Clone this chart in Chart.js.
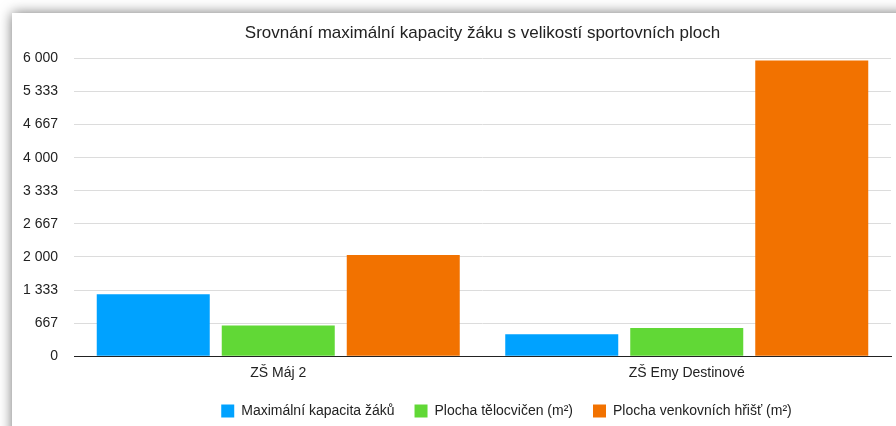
<!DOCTYPE html>
<html>
<head>
<meta charset="utf-8">
<script src="https://cdn.jsdelivr.net/npm/chart.js@4/dist/chart.umd.min.js"></script>
<style>
  html, body { margin: 0; padding: 0; background: #fff; overflow: hidden; }
  body { width: 896px; height: 426px; position: relative; }
  #panel {
    position: absolute; left: 12px; top: 13px; width: 960px; height: 500px;
    background: #fff; box-shadow: 0 0 12px rgba(0,0,0,0.55);
  }
  #wrap { position: absolute; left: 0; top: 0; width: 884px; height: 413px; }
</style>
</head>
<body>
<div id="panel"><div id="wrap"><canvas id="kapacitaChart"></canvas></div></div>
<script>
// Data
const skoly = ['ZŠ Máj 2', 'ZŠ Emy Destinové'];
const kapacitaZaku = [1250, 440];
const plochaTelocvicen = [620, 570];
const plochaHrist = [2040, 5960];
const tickLabels = ['0', '667', '1 333', '2 000', '2 667', '3 333', '4 000', '4 667', '5 333', '6 000'];

const pismo = "'Liberation Sans', Arial, Helvetica, sans-serif";

// posun legendy doprava a dolu jako v originalu
const posunLegendy = {
    id: 'posunLegendy',
    afterLayout(chart) {
        const lg = chart.legend;
        if (lg) {
            lg.left += 55; lg.right += 55;
            lg.top += 2; lg.bottom += 2;
        }
    }
};

const ctx = document.getElementById('kapacitaChart').getContext('2d');
new Chart(ctx, {
    type: 'bar',
    data: {
        labels: skoly,
        datasets: [
            { label: 'Maximální kapacita žáků', data: kapacitaZaku, backgroundColor: '#00A2FF' },
            { label: 'Plocha tělocvičen (m²)', data: plochaTelocvicen, backgroundColor: '#61D836' },
            { label: 'Plocha venkovních hřišť (m²)', data: plochaHrist, backgroundColor: '#F27200' }
        ]
    },
    options: {
        responsive: true,
        maintainAspectRatio: false,
        animation: false,
        categoryPercentage: 0.918,
        barPercentage: 0.904,
        layout: { padding: { left: 0, right: 5, top: 0, bottom: 0 } },
        scales: {
            x: {
                afterFit(scale) { scale.height -= 9; },
                grid: { display: false, drawTicks: false },
                border: { display: true, color: '#222', width: 1 },
                ticks: { color: '#222', font: { family: pismo, size: 14 }, padding: 9 }
            },
            y: {
                min: 0,
                max: 6000,
                afterFit(scale) { scale.width = 62; },
                grid: { color: '#dcdcdc', lineWidth: 1, drawTicks: false },
                border: { display: false },
                ticks: {
                    count: 10,
                    color: '#222',
                    padding: 16,
                    font: { family: pismo, size: 14 },
                    callback: (v, i) => tickLabels[i]
                }
            }
        },
        plugins: {
            title: {
                display: true,
                fullSize: false,
                text: 'Srovnání maximální kapacity žáku s velikostí sportovních ploch',
                color: '#222',
                font: { family: pismo, size: 17, weight: 'normal' },
                padding: { top: 10, bottom: 15 }
            },
            legend: {
                position: 'bottom',
                labels: {
                    color: '#222',
                    boxWidth: 13,
                    boxHeight: 13,
                    padding: 20,
                    font: { family: pismo, size: 14 }
                }
            },
            tooltip: { enabled: false }
        }
    },
    plugins: [posunLegendy]
});
</script>
</body>
</html>
